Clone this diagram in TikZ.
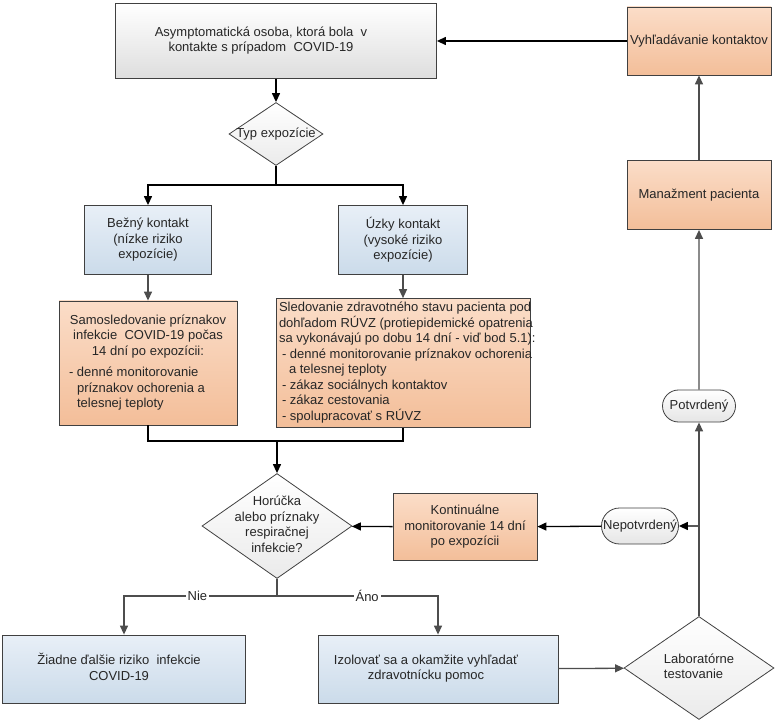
\documentclass[tikz,border=0pt]{standalone}
\usepackage{fontspec}
\setmainfont{Liberation Sans}
\usetikzlibrary{arrows.meta,shapes.geometric,shapes.misc}

\definecolor{peachtop}{HTML}{FBDDC8}
\definecolor{peachbot}{HTML}{F3BE99}
\definecolor{bluetop}{HTML}{E8EFF7}
\definecolor{bluebot}{HTML}{CBDBEA}
\definecolor{edgegray}{HTML}{404040}
\definecolor{linegray}{HTML}{4D4D4D}

\begin{document}
\begin{tikzpicture}[x=1pt, y=-1pt,
  font=\fontsize{13}{15.5}\selectfont,
  base/.style={draw=edgegray, line width=0.8pt, align=center, inner sep=2pt, text=black!85},
  graybox/.style={base, top color=white, bottom color=black!13},
  bluebox/.style={base, top color=bluetop, bottom color=bluebot},
  peachbox/.style={base, top color=peachtop, bottom color=peachbot},
  decision/.style={base, diamond, top color=white, bottom color=black!8, inner sep=0pt},
  terminal/.style={base, rounded rectangle, top color=white, bottom color=black!10, inner xsep=3pt},
  arr/.style={-{Triangle[length=9pt,width=8pt]}, line width=1.3pt, draw=linegray},
  arrb/.style={arr, draw=black},
  lineb/.style={line width=1.5pt, draw=black},
  lbl/.style={fill=white, inner sep=2pt, text=black!85}
]
\useasboundingbox (0,0) rectangle (780,722);

% top row
\node[graybox, minimum width=321pt, minimum height=75pt] (asym) at (276,41)
  {\raisebox{6pt}{\begin{tabular}{@{}c@{\hspace{30pt}}}Asymptomatická osoba, ktorá bola~ v\\kontakte s prípadom~ COVID-19\end{tabular}}};
\node[peachbox, minimum width=144pt, minimum height=68pt, inner xsep=0pt] (vyh) at (699,41)
  {\makebox[140pt]{Vyhľadávanie kontaktov}};
\node[peachbox, minimum width=144pt, minimum height=69pt] (man) at (699,195)
  {Manažment pacienta};

% exposure type
\node[decision, minimum width=94pt, minimum height=63pt] (typ) at (276,134)
  {\makebox[0pt]{Typ expozície}};
\node[bluebox, minimum width=127pt, minimum height=69pt] (bezny) at (148,240)
  {Bežný kontakt\\(nízke riziko\\expozície)};
\node[bluebox, minimum width=129pt, minimum height=69pt] (uzky) at (403,240)
  {Úzky kontakt\\(vysoké riziko\\expozície)};

% monitoring
\node[peachbox, minimum width=178pt, minimum height=124pt] (samo) at (148,363)
  {\begin{tabular}{@{}c@{}}Samosledovanie príznakov\\infekcie~ COVID-19 počas\\14 dní po expozícii:\end{tabular}\\[5pt]
   \begin{tabular}{@{}l@{\hspace{22pt}}}-\ denné monitorovanie\\\hspace*{8pt}príznakov ochorenia a\\\hspace*{8pt}telesnej teploty\end{tabular}};
\node[peachbox, minimum width=254pt, minimum height=123pt, inner xsep=3pt] (sled) at (403,363)
  {\raisebox{-5pt}{\makebox[248pt][l]{\begin{tabular}{@{}l@{}}Sledovanie zdravotného stavu pacienta pod\\
   dohľadom RÚVZ (protiepidemické opatrenia\\
   sa vykonávajú po dobu 14 dní - viď bod 5.1):\\
   \hspace*{3pt}-\ denné monitorovanie príznakov ochorenia\\
   \hspace*{10pt}a telesnej teploty\\
   \hspace*{3pt}-\ zákaz sociálnych kontaktov\\
   \hspace*{3pt}-\ zákaz cestovania\\
   \hspace*{3pt}-\ spolupracovať s RÚVZ\end{tabular}}}};

% symptoms
\node[decision, minimum width=150pt, minimum height=105pt] (hor) at (277,526)
  {\makebox[0pt]{\begin{tabular}{@{}c@{}}Horúčka\\alebo príznaky\\respiračnej\\infekcie?\end{tabular}}};
\node[peachbox, minimum width=144pt, minimum height=67pt] (kont) at (465,527)
  {Kontinuálne\\monitorovanie 14 dní\\po expozícii};
\node[terminal, minimum width=83pt, minimum height=36pt] (nep) at (640,526) {Nepotvrdený};
\node[terminal, minimum width=79pt, minimum height=32pt] (pot) at (699,406) {Potvrdený};

% outcomes
\node[bluebox, minimum width=243pt, minimum height=68pt] (ziad) at (124,669)
  {\begin{tabular}{@{}c@{\hspace{10pt}}}Žiadne ďalšie riziko~ infekcie\\COVID-19\end{tabular}};
\node[bluebox, minimum width=240pt, minimum height=68pt] (izo) at (438,669)
  {\begin{tabular}{@{}c@{\hspace{24pt}}}Izolovať sa a okamžite vyhľadať\\zdravotnícku pomoc\end{tabular}};
\node[decision, minimum width=150pt, minimum height=103pt] (lab) at (699,668)
  {\makebox[0pt]{\begin{tabular}{@{}l@{}}Laboratórne\\testovanie\end{tabular}}};

% helper points
\coordinate (split) at (276,185);
\coordinate (merge) at (277,441);
\coordinate (fork) at (277,596);
\coordinate (branch) at (699,526);

% connectors
\draw[arrb] (vyh) -- (asym);
\draw[arrb] (asym) -- (typ);
\draw[lineb] (typ) -- (split);
\draw[arrb] (split) -| (bezny);
\draw[arrb] (split) -| (uzky);
\draw[arr] (bezny) -- (samo);
\draw[arr] (uzky) -- (sled);
\draw[lineb] (samo) |- (merge);
\draw[lineb] (sled) |- (merge);
\draw[arrb] (merge) -- (hor);
\draw[arrb] (kont) -- (hor);
\draw[arrb] (nep) -- (kont);
\draw[arrb] (branch) -- (nep);
\draw[line width=1.3pt, draw=linegray] (hor) -- (fork);
\draw[arr] (fork) -| node[lbl, pos=0.26] {Nie} (ziad);
\draw[arr] (fork) -| node[lbl, pos=0.28] {Áno} (izo);
\draw[arr] (izo) -- (lab);
\draw[arr] (lab) -- (pot);
\draw[arr] (pot) -- (man);
\draw[arr] (man) -- (vyh);
\end{tikzpicture}
\end{document}
